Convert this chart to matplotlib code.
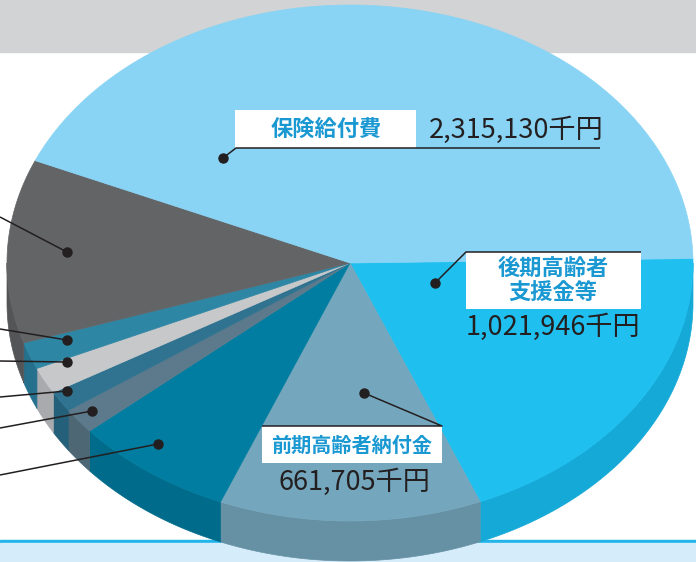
import numpy as np
import matplotlib.pyplot as plt
from matplotlib.patches import Polygon, Rectangle

plt.rcParams['font.family'] = ['Noto Sans CJK JP', 'DejaVu Sans']

# slices in clockwise order, starting at the right (thousand yen)
names = ['後期高齢者支援金等', '前期高齢者納付金', 'その他A', 'その他B', 'その他C',
         'その他D', 'その他E', 'その他F', '保険給付費']
values = [1021946, 661705, 404600, 86300, 69900, 89300, 90700, 615900, 2315130]
top_colors = ['#1FC0F0', '#74A7BD', '#007DA0', '#5C7A8B', '#2F7390',
              '#C7C8CA', '#2E86A5', '#636466', '#89D4F5']
side_colors = ['#14A9D6', '#6690A4', '#006B8A', '#4D6775', '#24607A',
               '#A9AAAD', '#25718D', '#545557', '#78BFDF']

W, H = 696, 562
fig = plt.figure(figsize=(W / 100, H / 100), dpi=100)
ax = fig.add_axes([0, 0, 1, 1])
ax.set_xlim(0, W)
ax.set_ylim(H, 0)
ax.axis('off')

# page bands
ax.add_patch(Rectangle((0, 0), W, 52, color='#D1D3D4', zorder=0))
ax.add_patch(Rectangle((0, 540), W, 3, color='#21B5EA', zorder=0))
ax.add_patch(Rectangle((0, 543), W, 19, color='#D5ECFA', zorder=0))

cx, cy, rx, ry, depth = 350, 263, 343, 258, 40
start = -1.0

vals = np.array(values, dtype=float)
edges = start + np.concatenate([[0], np.cumsum(vals)]) / vals.sum() * 360


def arc(a, b, n=200):
    t = np.radians(np.linspace(a, b, n))
    return cx + rx * np.cos(t), cy + ry * np.sin(t)


# side walls (front half only)
for i in range(len(values)):
    lo, hi = max(edges[i], 0), min(edges[i + 1], 180)
    if hi <= lo:
        continue
    x, y = arc(lo, hi)
    pts = np.column_stack([np.concatenate([x, x[::-1]]),
                           np.concatenate([y, y[::-1] + depth])])
    ax.add_patch(Polygon(pts, closed=True, facecolor=side_colors[i],
                         edgecolor=side_colors[i], lw=0.5, zorder=2))

# top faces
for i in range(len(values)):
    x, y = arc(edges[i], edges[i + 1])
    pts = np.column_stack([np.concatenate([[cx], x]), np.concatenate([[cy], y])])
    ax.add_patch(Polygon(pts, closed=True, facecolor=top_colors[i],
                         edgecolor=top_colors[i], lw=0.5, zorder=3))

LINE = '#231F20'
BLUE = '#1A98D2'


def leader(xs, ys):
    ax.plot(xs, ys, color=LINE, lw=1.1, zorder=5, solid_capstyle='butt')
    ax.plot(xs[0], ys[0], 'o', color=LINE, ms=6.5, zorder=6)


def box(x0, y0, x1, y1):
    ax.add_patch(Rectangle((x0, y0), x1 - x0, y1 - y0, facecolor='white',
                           edgecolor='none', zorder=4))


# 保険給付費
box(235, 110, 416, 148)
leader([223, 236, 600], [158, 148, 148])
ax.text(326, 129, '保険給付費', color=BLUE, fontsize=16, fontweight='bold',
        ha='center', va='center', zorder=7)
ax.text(429, 130, f'{values[8]:,}千円', color=LINE, fontsize=19.5,
        ha='left', va='center', zorder=7)

# 後期高齢者支援金等
box(466, 252, 641, 309)
leader([435, 466, 641], [283, 252, 252])
ax.text(553, 268, '後期高齢者', color=BLUE, fontsize=16, fontweight='bold',
        ha='center', va='center', zorder=7)
ax.text(553, 293, '支援金等', color=BLUE, fontsize=16, fontweight='bold',
        ha='center', va='center', zorder=7)
ax.text(553, 327, f'{values[0]:,}千円', color=LINE, fontsize=19.5,
        ha='center', va='center', zorder=7)

# 前期高齢者納付金
box(262, 426, 442, 463)
leader([364, 442, 262], [393, 426, 426])
ax.text(352, 445, '前期高齢者納付金', color=BLUE, fontsize=14.5, fontweight='bold',
        ha='center', va='center', zorder=7)
ax.text(354, 482, f'{values[1]:,}千円', color=LINE, fontsize=19.5,
        ha='center', va='center', zorder=7)

# leaders of the small slices running off the left edge
leader([67, 0], [252, 217])
leader([67, 0], [340, 329])
leader([67, 0], [362, 361])
leader([67, 0], [391, 397])
leader([92, 0], [411, 428])
leader([158, 0], [444, 475])

fig.savefig('out.png', dpi=100)
